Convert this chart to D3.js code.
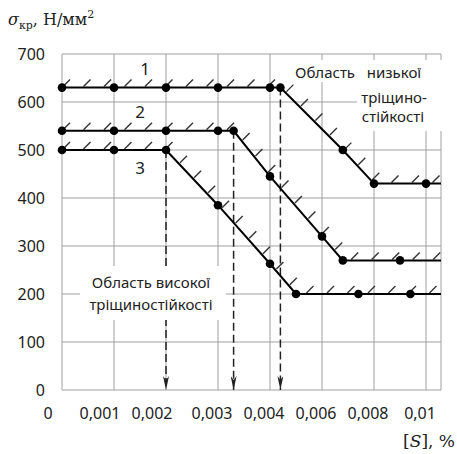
<!DOCTYPE html>
<html>
  <head>
    <meta charset="utf-8" />
    <style>
      body { margin: 0; background: white; }
      svg { display: block; }
      .grid-lines { stroke: #a0a0a0; stroke-width: 1; }
      .tick-label { font-family: 'Noto Sans', sans-serif; font-size: 16px; fill: #222; }
      .curve { fill: none; stroke: black; stroke-width: 2; }
      .hatch { stroke: #333; stroke-width: 1.4; }
      .note { font-family: 'Noto Sans', sans-serif; font-size: 15px; fill: #222; text-anchor: middle; }
      .curve-label { font-family: 'Noto Sans', sans-serif; font-size: 17px; fill: #222; text-anchor: middle; }
      .arrow { stroke: #222; stroke-width: 1.5; stroke-dasharray: 8 4; fill: none; }
    </style>
  </head>
  <body>
    <script src="https://d3js.org/d3.v7.min.js"></script>
    <script>
      // x axis in the source is not linear: equal steps for these ticks
      const xTicks = [0, 0.001, 0.002, 0.003, 0.004, 0.006, 0.008, 0.01];
      const xTickLabels = ['0', '0,001', '0,002', '0,003', '0,004', '0,006', '0,008', '0,01'];
      const yTicks = [0, 100, 200, 300, 400, 500, 600, 700];

      const curve1 = [[0, 630], [0.001, 630], [0.002, 630], [0.003, 630], [0.004, 630], [0.0044, 630], [0.0068, 500], [0.008, 430], [0.01, 430]];
      const curve2 = [[0, 540], [0.001, 540], [0.002, 540], [0.003, 540], [0.0033, 540], [0.004, 445], [0.006, 320], [0.0068, 270], [0.009, 270]];
      const curve3 = [[0, 500], [0.001, 500], [0.002, 500], [0.003, 385], [0.004, 263], [0.005, 200], [0.0074, 200], [0.0094, 200]];
      const curveNames = ['1', '2', '3'];
      const labelAt = [[0.0016, 630], [0.0015, 540], [0.0015, 500]];

      // dashed arrows: critical points dropping to the axis
      const arrowX = [0.002, 0.0033, 0.0044];
      const arrowFrom = [500, 540, 630];

      const width = 457;
      const height = 454;
      const plotLeft = 62, step = 52, plotRight = 441;
      const plotTop = 54, plotBottom = 390;

      const svg = d3.select('body').append('svg').attr('width', width).attr('height', height);

      const xScale = d3.scaleLinear()
        .domain(xTicks)
        .range(xTicks.map((d, i) => plotLeft + i * step));
      const yScale = d3.scaleLinear().domain([0, 700]).range([plotBottom, plotTop]);
      const xEnd = xScale.invert(plotRight);

      // grid
      const grid = svg.append('g').attr('class', 'grid-lines');
      grid.selectAll('.h')
        .data(yTicks)
        .join('line')
        .attr('class', 'h')
        .attr('x1', plotLeft).attr('x2', plotRight)
        .attr('y1', yScale).attr('y2', yScale);
      grid.selectAll('.v')
        .data(xTicks)
        .join('line')
        .attr('class', 'v')
        .attr('x1', xScale).attr('x2', xScale)
        .attr('y1', plotTop).attr('y2', plotBottom);
      grid.append('line')
        .attr('x1', plotRight).attr('x2', plotRight)
        .attr('y1', plotTop).attr('y2', plotBottom);

      // axis labels
      svg.append('g')
        .selectAll('text')
        .data(yTicks)
        .join('text')
        .attr('class', 'tick-label')
        .attr('x', 45)
        .attr('y', yScale)
        .attr('dy', '0.35em')
        .attr('text-anchor', 'end')
        .text((d) => d);

      svg.append('g')
        .selectAll('text')
        .data(xTicks)
        .join('text')
        .attr('class', 'tick-label')
        .attr('x', (d, i) => xScale(d) - (i < 3 ? 14 : 6))
        .attr('y', 413)
        .attr('dy', '0.35em')
        .attr('text-anchor', 'middle')
        .text((d, i) => xTickLabels[i]);

      // dashed arrows
      const defs = svg.append('defs');
      defs.append('marker')
        .attr('id', 'head')
        .attr('viewBox', '0 0 6 14')
        .attr('refX', 3).attr('refY', 14)
        .attr('markerWidth', 6).attr('markerHeight', 14)
        .attr('markerUnits', 'userSpaceOnUse')
        .attr('orient', '0')
        .append('path')
        .attr('d', 'M0,0 L3,14 L6,0 L3,4 Z')
        .attr('fill', '#222');

      svg.append('g')
        .selectAll('line')
        .data(arrowX)
        .join('line')
        .attr('class', 'arrow')
        .attr('x1', xScale).attr('x2', xScale)
        .attr('y1', (d, i) => yScale(arrowFrom[i]))
        .attr('y2', plotBottom)
        .attr('marker-end', 'url(#head)');

      // white boxes behind the region notes
      svg.append('rect').attr('x', 80).attr('y', 266).attr('width', 146).attr('height', 54).attr('fill', 'white');
      svg.append('rect').attr('x', 293).attr('y', 60).attr('width', 61).attr('height', 22).attr('fill', 'white');
      svg.append('rect').attr('x', 357).attr('y', 60).attr('width', 90).attr('height', 71).attr('fill', 'white');

      svg.append('text').attr('class', 'note').attr('x', 151).attr('y', 283).attr('dy', '0.35em').text('Область високої');
      svg.append('text').attr('class', 'note').attr('x', 151).attr('y', 305).attr('dy', '0.35em').text('тріщиностійкості');
      svg.append('text').attr('class', 'note').attr('x', 325).attr('y', 73).attr('dy', '0.35em').text('Область');
      svg.append('text').attr('class', 'note').attr('x', 394).attr('y', 73).attr('dy', '0.35em').text('низької');
      svg.append('text').attr('class', 'note').attr('x', 394).attr('y', 98).attr('dy', '0.35em').text('тріщино-');
      svg.append('text').attr('class', 'note').attr('x', 393).attr('y', 117).attr('dy', '0.35em').text('стійкості');

      // curves with hatching
      const line = d3.line().x((d) => xScale(d[0])).y((d) => yScale(d[1]));
      const curves = [curve1, curve2, curve3];

      curves.forEach((pts, k) => {
        const g = svg.append('g');
        const full = pts.concat([[xEnd, pts[pts.length - 1][1]]]);
        const path = g.append('path').attr('class', 'curve').attr('d', line(full));
        const len = path.node().getTotalLength();
        const marks = d3.range(0, len, 20.5).map((s) => path.node().getPointAtLength(s));
        g.append('g')
          .selectAll('line')
          .data(marks)
          .join('line')
          .attr('class', 'hatch')
          .attr('x1', (p) => p.x + 1).attr('y1', (p) => p.y - 1)
          .attr('x2', (p) => p.x + 8).attr('y2', (p) => p.y - 8);
        path.raise();
        g.append('g')
          .selectAll('circle')
          .data(pts)
          .join('circle')
          .attr('cx', (d) => xScale(d[0]))
          .attr('cy', (d) => yScale(d[1]))
          .attr('r', 4.3)
          .attr('fill', 'black');
        g.append('text')
          .attr('class', 'curve-label')
          .attr('x', xScale(labelAt[k][0]))
          .attr('y', yScale(labelAt[k][1]) + (k < 2 ? -19 : 18))
          .attr('dy', '0.35em')
          .text(curveNames[k]);
      });

      // axis titles
      const yTitle = svg.append('text')
        .attr('x', 8).attr('y', 25)
        .attr('font-family', "'DejaVu Serif', serif")
        .attr('font-size', 16)
        .attr('fill', '#222');
      yTitle.append('tspan').attr('font-style', 'italic').text('σ');
      yTitle.append('tspan').attr('font-size', 11).attr('dy', 4).text('кр');
      yTitle.append('tspan').attr('dy', -4).text(', Н/мм');
      yTitle.append('tspan').attr('font-size', 11).attr('dy', -7).text('2');

      const xTitle = svg.append('text')
        .attr('x', 455).attr('y', 447)
        .attr('text-anchor', 'end')
        .attr('font-family', "'DejaVu Serif', serif")
        .attr('font-size', 17)
        .attr('fill', '#222');
      xTitle.append('tspan').text('[');
      xTitle.append('tspan').attr('font-style', 'italic').text('S');
      xTitle.append('tspan').text('], %');
    </script>
  </body>
</html>
